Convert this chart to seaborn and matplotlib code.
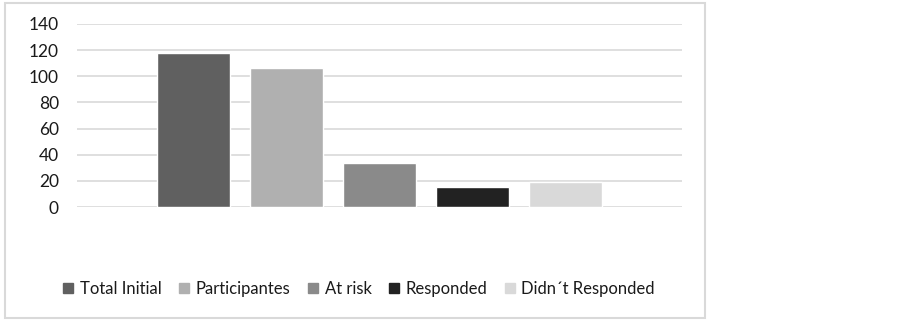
import matplotlib
matplotlib.use("Agg")
import matplotlib.pyplot as plt
import matplotlib.patches as mpatches
import pandas as pd
import seaborn as sns

# data
groups = ["Total Initial", "Participantes", "At risk", "Responded", "Didn\u00b4t Responded"]
counts = [118, 106, 34, 15, 19]
colors = ["#606060", "#b0b0b0", "#8a8a8a", "#222222", "#d9d9d9"]
yticks = [0, 20, 40, 60, 80, 100, 120, 140]

sns.set_theme(style="white")
plt.rcParams['font.family'] = ['Lato', 'DejaVu Sans']

df = pd.DataFrame({"group": groups, "count": counts})

fig = plt.figure(figsize=(9.03, 3.21), dpi=100)
ax = fig.add_axes([77 / 903, 1 - 207 / 321, 605 / 903, 183 / 321])

sns.barplot(data=df, x="group", y="count", hue="group", palette=colors,
            width=0.785, saturation=1, legend=False, ax=ax)

ax.set_xlim(-1.25, 5.25)
ax.set_ylim(0, 140)
ax.set_yticks(yticks)
ax.yaxis.grid(True, color="#d9d9d9", linewidth=1.2)
ax.set_axisbelow(True)
ax.set_xticks([])
ax.set_xlabel("")
ax.set_ylabel("")
for s in ax.spines.values():
    s.set_visible(False)
ax.tick_params(axis="y", length=0, pad=13, labelsize=12.5, labelcolor="#1a1a1a")

# outer chart border
fig.patches.append(mpatches.Rectangle((5 / 903, 3 / 321), 700 / 903, 315 / 321,
                                      transform=fig.transFigure, fill=False,
                                      edgecolor="#d9d9d9", linewidth=1.5))

handles = [mpatches.Patch(color=c, label=g) for g, c in zip(groups, colors)]
fig.legend(handles=handles, loc="center", bbox_to_anchor=(359 / 903, 1 - 289 / 321),
           ncol=5, frameon=False, fontsize=12, handlelength=0.6, handleheight=0.6,
           handletextpad=0.4, columnspacing=1.05, labelcolor="#1a1a1a")

fig.savefig("out.png", dpi=100)
